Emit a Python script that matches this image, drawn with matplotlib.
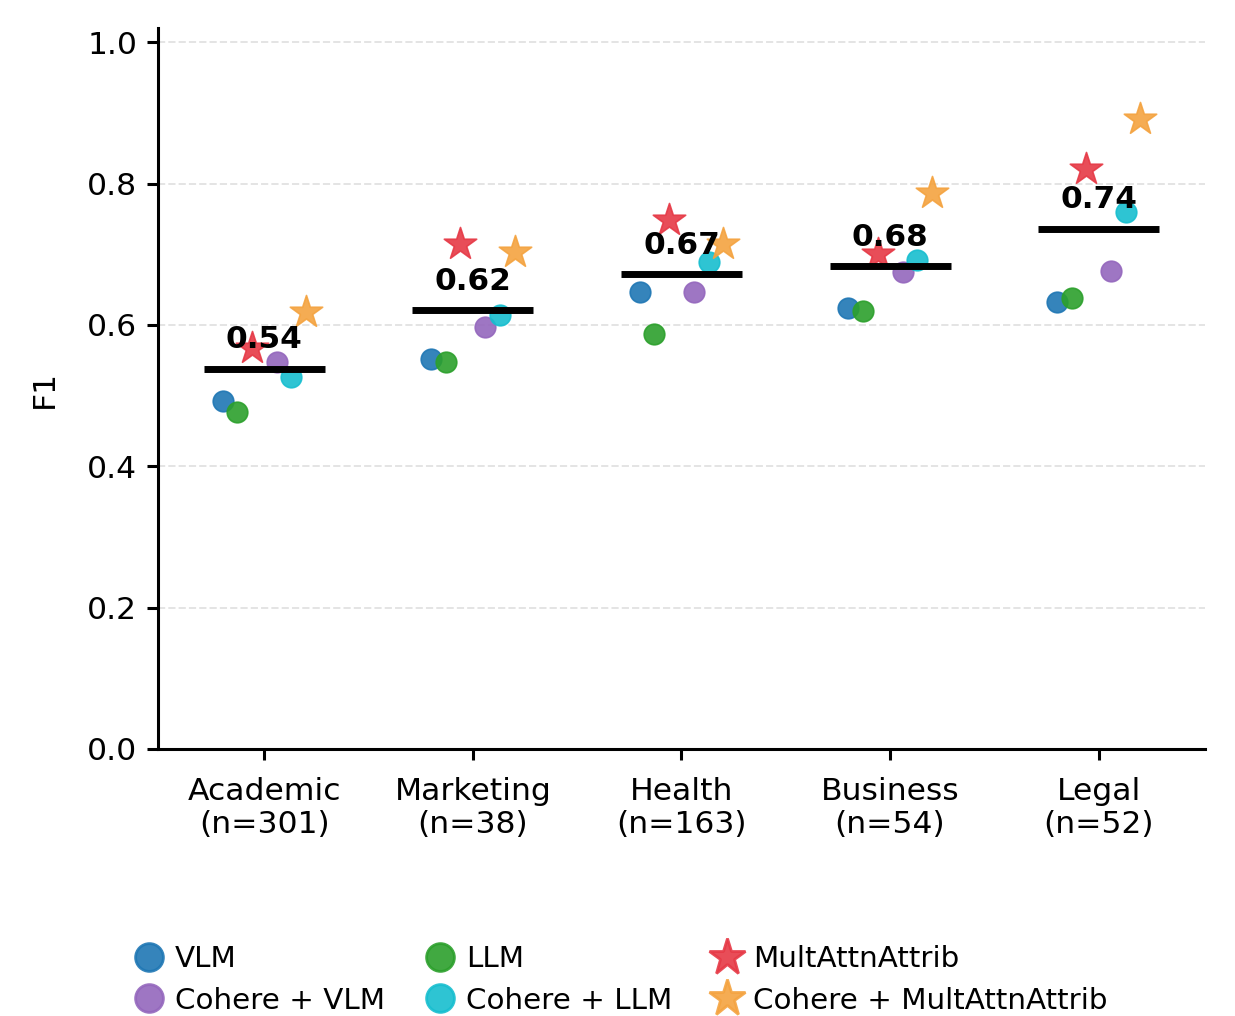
import matplotlib
matplotlib.use("Agg")
import matplotlib.pyplot as plt
from matplotlib.lines import Line2D
import numpy as np

categories = ["Academic\n(n=301)", "Marketing\n(n=38)", "Health\n(n=163)", "Business\n(n=54)", "Legal\n(n=52)"]
methods = ["VLM", "LLM", "MultAttnAttrib", "Cohere + VLM", "Cohere + LLM", "Cohere + MultAttnAttrib"]
vlm = [0.493, 0.552, 0.647, 0.624, 0.632]
llm = [0.477, 0.548, 0.587, 0.620, 0.638]
multattn = [0.568, 0.714, 0.748, 0.701, 0.821]
cohere_vlm = [0.547, 0.597, 0.647, 0.675, 0.676]
cohere_llm = [0.526, 0.614, 0.689, 0.692, 0.760]
cohere_multattn = [0.618, 0.703, 0.715, 0.786, 0.891]

series = [vlm, llm, multattn, cohere_vlm, cohere_llm, cohere_multattn]
colors = ["#1f77b4", "#2ca02c", "#e63946", "#9467bd", "#17becf", "#f4a340"]
markers = ["o", "o", "*", "o", "o", "*"]
offsets = [-0.2, -0.13, -0.06, 0.06, 0.13, 0.2]

fig = plt.figure(figsize=(6.175, 5.08), dpi=200)
ax = fig.add_axes([0.1279, 0.2628, 0.8478, 0.7096])

x = np.arange(len(categories))
handles = {}
for s, c, m, off, name in zip(series, colors, markers, offsets, methods):
    size = 55 if m == "o" else 150
    ax.scatter(x + off, s, s=size, color=c, marker=m, alpha=0.9, linewidths=0.6,
               edgecolors=c, zorder=3, label=name)
    ms = 10 if m == "o" else 14
    handles[name] = Line2D([], [], linestyle="none", marker=m, color=c, markersize=ms,
                           alpha=0.9)

means = np.mean(np.array(series), axis=0)
for xi, mv in zip(x, means):
    ax.hlines(mv, xi - 0.29, xi + 0.29, color="black", lw=2.5, zorder=4)
    ax.text(xi, mv + 0.02, f"{mv:.2f}", ha="center", va="bottom", fontsize=11.2,
            fontweight="bold", zorder=5)

ax.set_xlim(-0.51, 4.51)
ax.set_ylim(0, 1.02)
ax.set_yticks([0.0, 0.2, 0.4, 0.6, 0.8, 1.0])
ax.set_xticks(x)
ax.set_xticklabels(categories, fontsize=11.3)
ax.tick_params(axis="y", labelsize=11.3, length=4, width=1.1)
ax.tick_params(axis="x", length=4, width=1.1, pad=6)
ax.set_ylabel("F1", fontsize=11.3, labelpad=10)
ax.yaxis.grid(True, linestyle="--", color="#dddddd", lw=0.7, alpha=0.8)
ax.set_axisbelow(True)
for sp in ["top", "right"]:
    ax.spines[sp].set_visible(False)
for sp in ["left", "bottom"]:
    ax.spines[sp].set_linewidth(1.1)

order = ["VLM", "Cohere + VLM", "LLM", "Cohere + LLM", "MultAttnAttrib", "Cohere + MultAttnAttrib"]
leg = fig.legend([handles[n] for n in order], order, loc="lower left",
                 bbox_to_anchor=(0.087, -0.019), ncol=3, frameon=False, fontsize=10.6,
                 handletextpad=0.2, handlelength=1.4, columnspacing=1.15, labelspacing=0.45,
                 borderaxespad=0.3)

fig.savefig("out.png", dpi=200)
